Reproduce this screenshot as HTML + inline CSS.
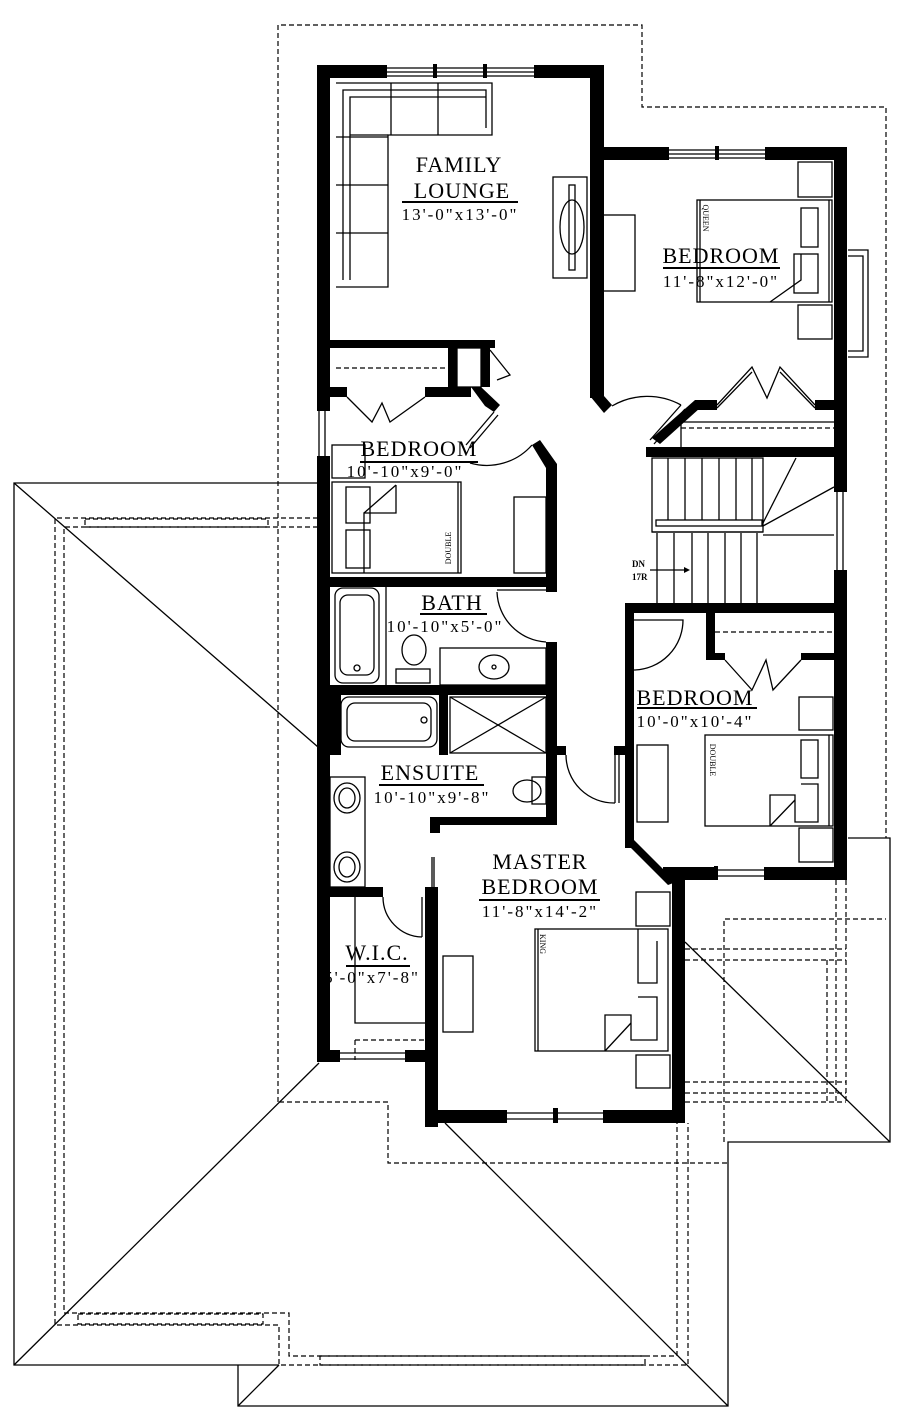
<!DOCTYPE html>
<html><head><meta charset="utf-8"><style>
html,body{margin:0;padding:0;background:#fff;width:906px;height:1417px;overflow:hidden}
svg{display:block}
text{font-family:"Liberation Serif",serif;fill:#000}
.t{font-size:22px;letter-spacing:1px}
.d{font-size:17px;letter-spacing:2px}
</style></head><body>
<svg width="906" height="1417" viewBox="0 0 906 1417" xmlns="http://www.w3.org/2000/svg">
<g fill="none" stroke="#000" stroke-width="1.3">
<polyline points="318,483 14,483 14,1365 279,1365"/>
<polyline points="238,1365 238,1406 728,1406 728,1142 890,1142 890,838 848,838"/>
<line x1="14" y1="483" x2="318" y2="747"/>
<line x1="14" y1="1365" x2="319" y2="1063"/>
<line x1="445" y1="1123" x2="728" y2="1406"/>
<line x1="238" y1="1406" x2="279" y2="1365"/>
<line x1="685" y1="942" x2="890" y2="1142"/>
</g>
<g fill="none" stroke="#000" stroke-width="1.2" stroke-dasharray="5,3">
<polyline points="278,1102 278,25 642,25 642,107 886,107 886,838"/>
<polyline points="318,518 55,518 55,1325 279,1325 279,1365 688,1365 688,1123"/>
<polyline points="318,527 64,527 64,1313 289,1313 289,1356 677,1356 677,1123"/>
<polyline points="279,1102 388,1102 388,1163 728,1163"/>
<polyline points="724,1142 724,919 886,919"/>
<line x1="685" y1="949" x2="846" y2="949"/>
<line x1="685" y1="960" x2="846" y2="960"/>
<line x1="685" y1="1082" x2="846" y2="1082"/>
<line x1="685" y1="1093" x2="846" y2="1093"/>
<line x1="685" y1="1102" x2="846" y2="1102"/>
<line x1="836" y1="880" x2="836" y2="1102"/>
<line x1="846" y1="880" x2="846" y2="1102"/>
<line x1="827" y1="960" x2="827" y2="1102"/>
<rect x="85" y="519" width="183" height="8"/>
<rect x="78" y="1314" width="185" height="10"/>
<rect x="320" y="1356" width="325" height="9"/>
<line x1="355" y1="1040" x2="425" y2="1040"/>
<line x1="355" y1="1040" x2="355" y2="1060"/>
<line x1="715" y1="632" x2="834" y2="632"/>
<line x1="336" y1="368" x2="448" y2="368"/>
<line x1="681" y1="428" x2="834" y2="428"/>
</g>

<g fill="#000">
<rect x="317" y="65" width="70" height="13"/>
<rect x="534" y="65" width="70" height="13"/>
<rect x="590" y="65" width="14" height="333"/>
<polygon points="590,396 604,396 612,405 604,413"/>
<rect x="317" y="65" width="13" height="346"/>
<rect x="590" y="147" width="79" height="13"/>
<rect x="765" y="147" width="82" height="13"/>
<rect x="834" y="147" width="13" height="263"/>
<rect x="834" y="400" width="13" height="92"/>
<rect x="834" y="570" width="13" height="310"/>
<rect x="764" y="867" width="83" height="13"/>
<rect x="663" y="867" width="55" height="13"/>
<rect x="695" y="400" width="22" height="10"/>
<rect x="815" y="400" width="20" height="10"/>
<polygon points="695,400 700,408 660,444 652,438"/>
<rect x="646" y="447" width="201" height="10"/>
<rect x="317" y="340" width="178" height="8"/>
<rect x="448" y="340" width="9" height="47"/>
<rect x="317" y="387" width="30" height="10"/>
<rect x="425" y="387" width="46" height="10"/>
<polygon points="471,387 481,387 500,405 494,412 485,406"/>
<rect x="481" y="340" width="9" height="47"/>
<rect x="317" y="456" width="13" height="600"/>
<polygon points="532,445 540,440 557,464 557,592 546,592 546,468"/>
<rect x="317" y="577" width="240" height="10"/>
<rect x="546" y="642" width="11" height="181"/>
<rect x="317" y="685" width="240" height="10"/>
<rect x="317" y="695" width="24" height="60"/>
<rect x="439" y="695" width="9" height="60"/>
<rect x="557" y="746" width="9" height="9"/>
<rect x="614" y="746" width="11" height="9"/>
<rect x="430" y="817" width="127" height="8"/>
<rect x="430" y="817" width="10" height="16"/>
<rect x="317" y="887" width="66" height="10"/>
<rect x="425" y="887" width="13" height="240"/>
<rect x="317" y="1050" width="23" height="12"/>
<rect x="405" y="1050" width="33" height="12"/>
<rect x="425" y="1110" width="82" height="13"/>
<rect x="603" y="1110" width="82" height="13"/>
<rect x="553" y="1108" width="5" height="15"/>
<rect x="672" y="870" width="13" height="253"/>
<polygon points="625,603 634,603 634,842 672,880 672,870 663,870 625,832"/>
<polygon points="625,832 634,840 676,882 668,885 625,842"/>
<rect x="625" y="603" width="222" height="10"/>
<rect x="625" y="603" width="9" height="17"/>
<rect x="625" y="668" width="9" height="180"/>
<rect x="706" y="613" width="9" height="47"/>
<rect x="706" y="653" width="19" height="7"/>
<rect x="801" y="653" width="33" height="7"/>
<rect x="715" y="146" width="4" height="14"/>
<rect x="433" y="64" width="4" height="14"/>
<rect x="483" y="64" width="4" height="14"/>
<rect x="714" y="866" width="4" height="14"/>
</g>

<g fill="none" stroke="#000" stroke-width="1.3">
<line x1="387" y1="68" x2="534" y2="68"/><line x1="387" y1="72" x2="534" y2="72"/><line x1="387" y1="76" x2="534" y2="76"/>
<line x1="669" y1="150" x2="765" y2="150"/><line x1="669" y1="154" x2="765" y2="154"/><line x1="669" y1="158" x2="765" y2="158"/>
<line x1="507" y1="1113" x2="603" y2="1113"/><line x1="507" y1="1119" x2="603" y2="1119"/>
<line x1="340" y1="1053" x2="405" y2="1053"/><line x1="340" y1="1059" x2="405" y2="1059"/>
<line x1="718" y1="870" x2="764" y2="870"/><line x1="718" y1="876" x2="764" y2="876"/>
<line x1="837" y1="492" x2="837" y2="570"/><line x1="843" y1="492" x2="843" y2="570"/>
<line x1="319" y1="411" x2="319" y2="456"/><line x1="325" y1="411" x2="325" y2="456"/>
<polyline points="848,250 868,250 868,357 848,357"/>
<polyline points="848,256 863,256 863,351 848,351"/>
<polyline points="336,287 388,287 388,135 492,135 492,83 336,83 z"/>
<polyline points="343,280 343,90 486,90 486,128"/>
<polyline points="350,280 350,97 486,97"/>
<line x1="350" y1="135" x2="388" y2="135"/>
<line x1="391" y1="83" x2="391" y2="135"/>
<line x1="438" y1="83" x2="438" y2="135"/>
<line x1="336" y1="137" x2="388" y2="137"/>
<line x1="336" y1="185" x2="388" y2="185"/>
<line x1="336" y1="233" x2="388" y2="233"/>
<rect x="553" y="177" width="34" height="101"/>
<rect x="569" y="185" width="6" height="85"/>
<ellipse cx="572" cy="227" rx="12" ry="27"/>
<rect x="603" y="215" width="32" height="76"/>
<rect x="697" y="200" width="135" height="102"/>
<line x1="700" y1="200" x2="700" y2="302"/>
<line x1="829" y1="200" x2="829" y2="302"/>
<rect x="801" y="208" width="17" height="39"/>
<rect x="794" y="254" width="24" height="39"/>
<polyline points="801,254 801,280 770,302"/>
<rect x="798" y="162" width="34" height="35"/>
<rect x="798" y="305" width="34" height="34"/>
<path d="M612,406 A70,70 0 0 1 681,405"/>
<line x1="681" y1="405" x2="650" y2="440"/>
<line x1="685" y1="409" x2="654" y2="444"/>
<polyline points="717,405 752,367 767,398 780,367 815,405"/>
<line x1="717" y1="408" x2="752" y2="372"/><line x1="815" y1="408" x2="780" y2="372"/>
<line x1="681" y1="422" x2="834" y2="422"/>
<line x1="681" y1="422" x2="681" y2="447"/>
<polyline points="490,350 510,375 497,380"/>
<rect x="457" y="348" width="24" height="39"/>
<polyline points="347,397 372,422 382,403 390,422 425,397"/>
<line x1="494" y1="412" x2="466" y2="445"/>
<line x1="498" y1="415" x2="470" y2="448"/>
<path d="M470,463 A60,60 0 0 0 532,445"/>
<rect x="332" y="445" width="33" height="33"/>
<rect x="332" y="482" width="129" height="91"/>
<line x1="458" y1="482" x2="458" y2="573"/>
<rect x="346" y="487" width="24" height="36"/>
<rect x="346" y="530" width="24" height="38"/>
<polyline points="396,485 396,513 364,513 364,573"/>
<line x1="396" y1="485" x2="364" y2="513"/>
<rect x="514" y="497" width="32" height="76"/>
<rect x="335" y="588" width="44" height="95" rx="8"/>
<rect x="340" y="595" width="34" height="80" rx="8"/>
<circle cx="357" cy="668" r="3"/>
<line x1="386" y1="587" x2="386" y2="685"/>
<ellipse cx="414" cy="650" rx="12" ry="15"/>
<rect x="396" y="669" width="34" height="14"/>
<rect x="440" y="648" width="106" height="37"/>
<ellipse cx="494" cy="667" rx="15" ry="12"/>
<circle cx="494" cy="667" r="2"/>
<path d="M497,592 A52,52 0 0 0 546,642"/>
<line x1="546" y1="590" x2="497" y2="590"/>
<rect x="341" y="697" width="96" height="50" rx="8"/>
<rect x="347" y="703" width="84" height="38" rx="8"/>
<circle cx="424" cy="720" r="3"/>
<rect x="450" y="697" width="96" height="56"/>
<line x1="450" y1="697" x2="546" y2="753"/><line x1="546" y1="697" x2="450" y2="753"/>
<ellipse cx="527" cy="791" rx="14" ry="11"/>
<rect x="532" y="777" width="14" height="27"/>
<path d="M566,755 A48,48 0 0 0 615,803"/>
<line x1="615" y1="755" x2="615" y2="803"/><line x1="619" y1="755" x2="619" y2="803"/>
<rect x="330" y="777" width="35" height="110"/>
<ellipse cx="347" cy="798" rx="13" ry="15"/><ellipse cx="347" cy="798" rx="8" ry="10"/>
<ellipse cx="347" cy="867" rx="13" ry="15"/><ellipse cx="347" cy="867" rx="8" ry="10"/>
<path d="M383,897 A40,40 0 0 0 422,937"/>
<line x1="422" y1="897" x2="422" y2="937"/>
<line x1="432" y1="857" x2="432" y2="907"/><line x1="434" y1="857" x2="434" y2="907"/>
<polyline points="355,897 355,1023 425,1023"/>
<rect x="443" y="956" width="30" height="76"/>
<rect x="535" y="929" width="133" height="122"/>
<line x1="538" y1="929" x2="538" y2="1051"/>
<rect x="636" y="892" width="34" height="34"/>
<rect x="636" y="1055" width="34" height="33"/>
<polyline points="638,929 638,983 657,983 657,941"/>
<polyline points="638,997 657,997 657,1040 631,1040 631,1015 605,1015 605,1051"/>
<line x1="631" y1="1023" x2="605" y2="1051"/>
<path d="M634,620 L683,620 A50,50 0 0 1 634,670"/>
<polyline points="725,660 752,690 766,660 773,690 801,660"/>
<rect x="637" y="745" width="31" height="77"/>
<rect x="705" y="735" width="128" height="91"/>
<line x1="829" y1="735" x2="829" y2="826"/>
<rect x="799" y="697" width="34" height="33"/>
<rect x="799" y="828" width="34" height="34"/>
<rect x="801" y="740" width="17" height="38"/>
<polyline points="801,784 818,784 818,822 795,822 795,795 770,795 770,826"/>
<line x1="795" y1="800" x2="770" y2="826"/>
<rect x="652" y="458" width="111" height="74"/>
<rect x="656" y="520" width="106" height="6"/>
<line x1="668" y1="458" x2="668" y2="520"/><line x1="685" y1="458" x2="685" y2="520"/>
<line x1="702" y1="458" x2="702" y2="520"/><line x1="719" y1="458" x2="719" y2="520"/>
<line x1="736" y1="458" x2="736" y2="520"/><line x1="752" y1="458" x2="752" y2="520"/>
<line x1="763" y1="523" x2="796" y2="458"/><line x1="763" y1="526" x2="834" y2="487"/>
<line x1="763" y1="535" x2="834" y2="535"/>
<line x1="657" y1="533" x2="657" y2="603"/><line x1="674" y1="533" x2="674" y2="603"/>
<line x1="692" y1="533" x2="692" y2="603"/><line x1="708" y1="533" x2="708" y2="603"/>
<line x1="725" y1="533" x2="725" y2="603"/><line x1="741" y1="533" x2="741" y2="603"/>
<line x1="757" y1="533" x2="757" y2="603"/>
<line x1="652" y1="532" x2="763" y2="532"/>
<line x1="650" y1="570" x2="684" y2="570"/>
</g>
<polygon points="684,567 690,570 684,573" fill="#000"/>
<text x="632" y="567" font-family="Liberation Sans,sans-serif" font-size="9" font-weight="bold">DN</text>
<text x="632" y="580" font-family="Liberation Sans,sans-serif" font-size="9" font-weight="bold">17R</text>

<g text-anchor="middle">
<text class="t" x="459" y="172">FAMILY</text>
<text class="t" x="462" y="198">LOUNGE</text>
<text class="d" x="460" y="220">13'-0"x13'-0"</text>
<text class="t" x="721" y="263">BEDROOM</text>
<text class="d" x="721" y="287">11'-8"x12'-0"</text>
<text class="t" x="419" y="456">BEDROOM</text>
<text class="d" x="405" y="477">10'-10"x9'-0"</text>
<text class="t" x="452" y="610">BATH</text>
<text class="d" x="445" y="632">10'-10"x5'-0"</text>
<text class="t" x="430" y="780">ENSUITE</text>
<text class="d" x="432" y="803">10'-10"x9'-8"</text>
<text class="t" x="695" y="705">BEDROOM</text>
<text class="d" x="695" y="727">10'-0"x10'-4"</text>
<text class="t" x="540" y="869">MASTER</text>
<text class="t" x="540" y="894">BEDROOM</text>
<text class="d" x="540" y="917">11'-8"x14'-2"</text>
<text class="t" x="377" y="960">W.I.C.</text>
<text class="d" x="372" y="983">5'-0"x7'-8"</text>
</g>
<g stroke="#000" stroke-width="2">
<line x1="402" y1="202" x2="518" y2="202"/>
<line x1="663" y1="268" x2="780" y2="268"/>
<line x1="360" y1="462" x2="478" y2="462"/>
<line x1="420" y1="614" x2="487" y2="614"/>
<line x1="379" y1="785" x2="484" y2="785"/>
<line x1="637" y1="708" x2="757" y2="708"/>
<line x1="479" y1="900" x2="600" y2="900"/>
<line x1="346" y1="966" x2="410" y2="966"/>
</g>
<g font-size="8" text-anchor="middle">
<text transform="translate(703,218) rotate(90)">QUEEN</text>
<text transform="translate(451,548) rotate(-90)">DOUBLE</text>
<text transform="translate(710,760) rotate(90)">DOUBLE</text>
<text transform="translate(540,944) rotate(90)">KING</text>
</g>
</svg>
</body></html>
